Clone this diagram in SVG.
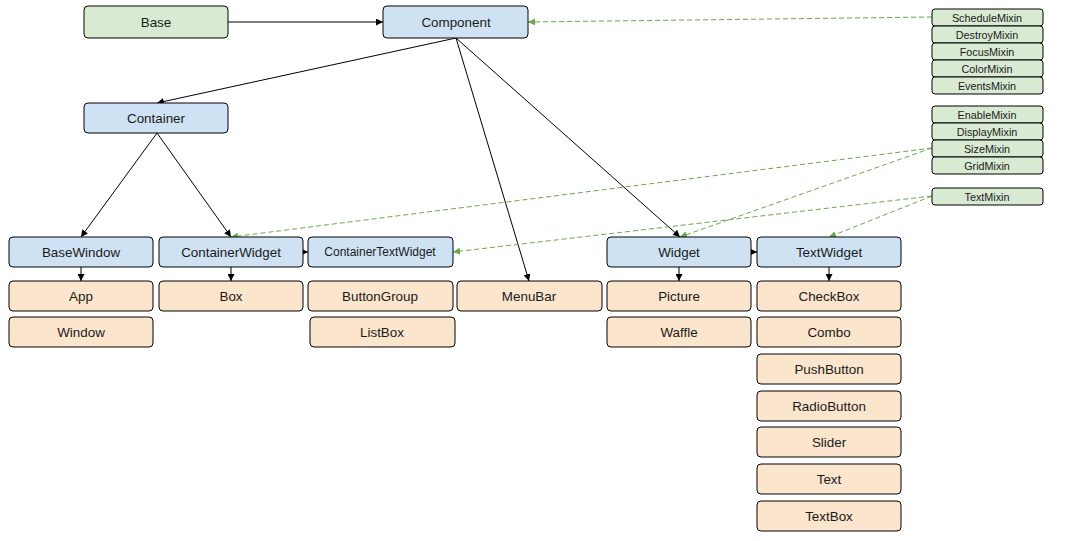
<svg xmlns="http://www.w3.org/2000/svg" width="1073" height="541" viewBox="0 0 1073 541">
  <style>
    .n rect { stroke: #000; stroke-width: 1; }
    .g rect { fill: #d9ead3; }
    .b rect { fill: #cfe2f3; }
    .o rect { fill: #fce5cd; }
    text { font-family: "Liberation Sans", Arial, sans-serif; font-size: 13.4px; fill: #1a1a1a; text-anchor: middle; dominant-baseline: central; }
    .m text { font-size: 10.8px; }
    .s { font-size: 12px; }
    .e { fill: none; stroke: #000; stroke-width: 1; marker-end: url(#ah); }
    .d { fill: none; stroke: #6aa84f; stroke-width: 1; stroke-dasharray: 5 3; marker-end: url(#ag); }
  </style>
  <defs>
    <marker id="ah" viewBox="0 0 10 10" refX="10" refY="5" markerWidth="7" markerHeight="7" markerUnits="userSpaceOnUse" orient="auto">
      <path d="M0,0 L10,5 L0,10 z" fill="#000"/>
    </marker>
    <marker id="ag" viewBox="0 0 10 10" refX="10" refY="5" markerWidth="7" markerHeight="7" markerUnits="userSpaceOnUse" orient="auto">
      <path d="M0,0 L10,5 L0,10 z" fill="#6aa84f"/>
    </marker>
  </defs>
  <rect width="1073" height="541" fill="#fff"/>

  <!-- connectors -->
  <g id="connectors">
    <line class="e" x1="228" y1="22" x2="383" y2="22"/>
    <line class="e" x1="456" y1="38" x2="157" y2="103"/>
    <line class="e" x1="456" y1="38" x2="529" y2="281"/>
    <line class="e" x1="456" y1="38" x2="680" y2="237"/>
    <line class="e" x1="157" y1="133" x2="81" y2="237"/>
    <line class="e" x1="157" y1="133" x2="231" y2="237"/>
    <line class="e" x1="303" y1="252" x2="308" y2="252"/>
    <line class="e" x1="751" y1="252" x2="757" y2="252"/>
    <line class="e" x1="81" y1="267" x2="81" y2="281"/>
    <line class="e" x1="231" y1="267" x2="231" y2="281"/>
    <line class="e" x1="679" y1="267" x2="679" y2="281"/>
    <line class="e" x1="829" y1="267" x2="829" y2="281"/>
    <line class="d" x1="932" y1="17" x2="528" y2="22"/>
    <line class="d" x1="932" y1="148" x2="231" y2="237"/>
    <line class="d" x1="932" y1="148" x2="680" y2="237"/>
    <line class="d" x1="932" y1="196" x2="453" y2="252"/>
    <line class="d" x1="932" y1="196" x2="829" y2="237"/>
  </g>

  <!-- core classes -->
  <g id="base" class="n g"><rect x="84" y="6" width="144" height="32" rx="4"/><text x="156" y="22">Base</text></g>
  <g id="component" class="n b"><rect x="383" y="6" width="145" height="32" rx="4"/><text x="456" y="22">Component</text></g>
  <g id="container" class="n b"><rect x="84" y="103" width="144" height="30" rx="4"/><text x="156" y="118">Container</text></g>

  <g id="basewindow" class="n b"><rect x="9" y="237" width="144" height="30" rx="4"/><text x="81" y="252">BaseWindow</text></g>
  <g id="containerwidget" class="n b"><rect x="159" y="237" width="144" height="30" rx="4"/><text x="231" y="252">ContainerWidget</text></g>
  <g id="containertextwidget" class="n b"><rect x="308" y="237" width="145" height="30" rx="4"/><text class="s" x="380" y="252">ContainerTextWidget</text></g>
  <g id="widget" class="n b"><rect x="607" y="237" width="144" height="30" rx="4"/><text x="679" y="252">Widget</text></g>
  <g id="textwidget" class="n b"><rect x="757" y="237" width="144" height="30" rx="4"/><text x="829" y="252">TextWidget</text></g>

  <!-- widgets -->
  <g id="app" class="n o"><rect x="9" y="281" width="144" height="30" rx="4"/><text x="81" y="296">App</text></g>
  <g id="window" class="n o"><rect x="9" y="317" width="144" height="30" rx="4"/><text x="81" y="332">Window</text></g>
  <g id="box" class="n o"><rect x="159" y="281" width="144" height="30" rx="4"/><text x="231" y="296">Box</text></g>
  <g id="buttongroup" class="n o"><rect x="308" y="281" width="145" height="30" rx="4"/><text x="380" y="296">ButtonGroup</text></g>
  <g id="listbox" class="n o"><rect x="310" y="317" width="145" height="30" rx="4"/><text x="382" y="332">ListBox</text></g>
  <g id="menubar" class="n o"><rect x="457" y="281" width="145" height="30" rx="4"/><text x="529" y="296">MenuBar</text></g>
  <g id="picture" class="n o"><rect x="607" y="281" width="144" height="30" rx="4"/><text x="679" y="296">Picture</text></g>
  <g id="waffle" class="n o"><rect x="607" y="317" width="144" height="30" rx="4"/><text x="679" y="332">Waffle</text></g>
  <g id="checkbox" class="n o"><rect x="757" y="281" width="144" height="30" rx="4"/><text x="829" y="296">CheckBox</text></g>
  <g id="combo" class="n o"><rect x="757" y="317" width="144" height="30" rx="4"/><text x="829" y="332">Combo</text></g>
  <g id="pushbutton" class="n o"><rect x="757" y="354" width="144" height="30" rx="4"/><text x="829" y="369">PushButton</text></g>
  <g id="radiobutton" class="n o"><rect x="757" y="391" width="144" height="30" rx="4"/><text x="829" y="406">RadioButton</text></g>
  <g id="slider" class="n o"><rect x="757" y="427" width="144" height="30" rx="4"/><text x="829" y="442">Slider</text></g>
  <g id="text" class="n o"><rect x="757" y="464" width="144" height="30" rx="4"/><text x="829" y="479">Text</text></g>
  <g id="textbox" class="n o"><rect x="757" y="501" width="144" height="30" rx="4"/><text x="829" y="516">TextBox</text></g>

  <!-- mixins -->
  <g id="schedulemixin" class="n g m"><rect x="932" y="9" width="111" height="17" rx="3"/><text x="987" y="17.5">ScheduleMixin</text></g>
  <g id="destroymixin" class="n g m"><rect x="932" y="26" width="111" height="17" rx="3"/><text x="987" y="34.5">DestroyMixin</text></g>
  <g id="focusmixin" class="n g m"><rect x="932" y="43" width="111" height="17" rx="3"/><text x="987" y="51.5">FocusMixin</text></g>
  <g id="colormixin" class="n g m"><rect x="932" y="60" width="111" height="17" rx="3"/><text x="987" y="68.5">ColorMixin</text></g>
  <g id="eventsmixin" class="n g m"><rect x="932" y="77" width="111" height="17" rx="3"/><text x="987" y="85.5">EventsMixin</text></g>
  <g id="enablemixin" class="n g m"><rect x="932" y="106" width="111" height="17" rx="3"/><text x="987" y="114.5">EnableMixin</text></g>
  <g id="displaymixin" class="n g m"><rect x="932" y="123" width="111" height="17" rx="3"/><text x="987" y="131.5">DisplayMixin</text></g>
  <g id="sizemixin" class="n g m"><rect x="932" y="140" width="111" height="17" rx="3"/><text x="987" y="148.5">SizeMixin</text></g>
  <g id="gridmixin" class="n g m"><rect x="932" y="157" width="111" height="17" rx="3"/><text x="987" y="165.5">GridMixin</text></g>
  <g id="textmixin" class="n g m"><rect x="932" y="188" width="111" height="17" rx="3"/><text x="987" y="196.5">TextMixin</text></g>
</svg>
